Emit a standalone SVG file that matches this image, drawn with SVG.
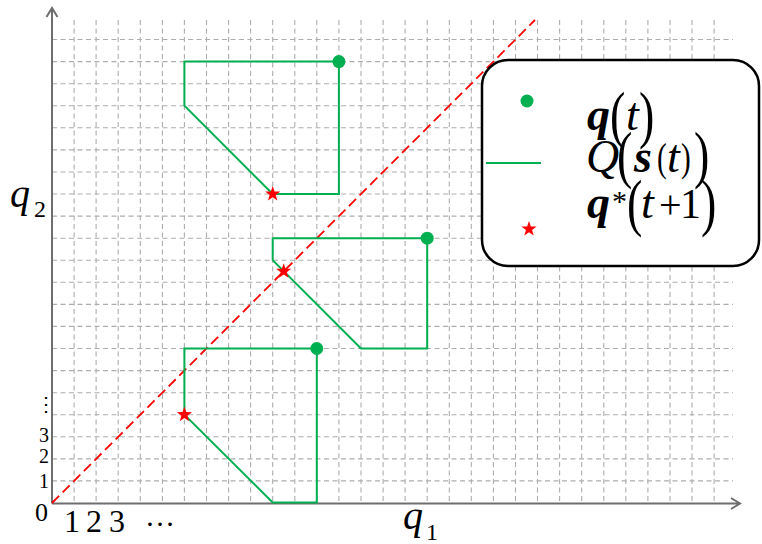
<svg xmlns="http://www.w3.org/2000/svg" width="762" height="544" viewBox="0 0 762 544">
<style>
.grid{fill:none;stroke:#adadad;stroke-width:1.1;stroke-dasharray:5 3.5}
.axis{fill:none;stroke:#6e6e6e;stroke-width:2}
.traj{fill:none;stroke:#00b050;stroke-width:2;stroke-linejoin:miter}
.dot{fill:#00b050}
.star{fill:#ff0000}
.diag{fill:none;stroke:#ff0000;stroke-width:1.8;stroke-dasharray:10 5}
.t{font-family:"Liberation Serif","Times New Roman",serif;fill:#000}
.i{font-style:italic}
.bi{font-style:italic;font-weight:bold}
</style>
<defs>
<path id="starshape" d="M0,-8 L1.88,-2.59 L7.61,-2.47 L3.04,0.99 L4.7,6.47 L0,3.2 L-4.7,6.47 L-3.04,0.99 L-7.61,-2.47 L-1.88,-2.59 Z"/>
</defs>
<rect width="762" height="544" fill="#ffffff"/>
<g id="grid">
<path class="grid" d="M74.1 20V503M96.1 20V503M118.2 20V503M140.3 20V503M162.4 20V503M184.4 20V503M206.5 20V503M228.6 20V503M250.6 20V503M272.7 20V503M294.8 20V503M316.8 20V503M338.9 20V503M361 20V503M383.1 20V503M405.1 20V503M427.2 20V503M449.3 20V503M471.3 20V503M493.4 20V503M515.5 20V503M537.5 20V503M559.6 20V503M581.7 20V503M603.8 20V503M625.8 20V503M647.9 20V503M670 20V503M692 20V503M714.1 20V503"/>
<path class="grid" d="M52 480.9H733M52 458.9H733M52 436.8H733M52 414.7H733M52 392.7H733M52 370.6H733M52 348.5H733M52 326.4H733M52 304.4H733M52 282.3H733M52 260.2H733M52 238.2H733M52 216.1H733M52 194H733M52 172H733M52 149.9H733M52 127.8H733M52 105.7H733M52 83.7H733M52 61.6H733M52 39.5H733"/>
</g>
<g id="axes">
<path class="axis" d="M52 503.5V8M46.5 17L52 8L57.5 17"/>
<path class="axis" d="M52 503.5H740M731 498L740 503.5L731 509"/>
</g>
<g id="connectors">
<line class="diag" x1="52" y1="503" x2="535" y2="20"/>
</g>
<g id="traj1">
<polygon class="traj" points="338.9,61.6 338.9,194 272.7,194 184.4,105.7 184.4,61.6"/>
<circle class="dot" cx="338.9" cy="61.6" r="6.5"/>
<use href="#starshape" class="star" x="272.7" y="194"/>
</g>
<g id="traj2">
<polygon class="traj" points="427.2,238.2 427.2,348.5 361,348.5 272.7,260.2 272.7,238.2"/>
<circle class="dot" cx="427.2" cy="238.2" r="6.5"/>
<use href="#starshape" class="star" x="283.7" y="271.3"/>
</g>
<g id="traj3">
<polygon class="traj" points="316.8,348.5 316.8,502.5 272.7,502.5 184.4,414.7 184.4,348.5"/>
<circle class="dot" cx="316.8" cy="348.5" r="6.5"/>
<use href="#starshape" class="star" x="184.4" y="414.7"/>
</g>
<g id="legend">
<rect x="482" y="60" width="277" height="206" rx="26" ry="26" fill="#ffffff" stroke="#000" stroke-width="2.5"/>
<circle class="dot" cx="527" cy="101" r="6.5"/>
<line x1="486" y1="163" x2="541" y2="163" stroke="#00b050" stroke-width="2"/>
<use href="#starshape" class="star" x="529" y="229"/>
<text class="t bi" x="587" y="130" font-size="46">q</text>
<text class="t" font-size="64" transform="translate(610,136) scale(0.72,1)">(</text>
<text class="t i" x="626" y="130" font-size="46">t</text>
<text class="t" font-size="64" transform="translate(639,136) scale(0.72,1)">)</text>
<text class="t i" x="586" y="172" font-size="46">Q</text>
<text class="t" font-size="64" transform="translate(617,176) scale(0.72,1)">(</text>
<text class="t bi" x="634" y="172" font-size="46">s</text>
<text class="t" font-size="39" transform="translate(657,171) scale(0.75,1)">(</text>
<text class="t i" x="667" y="172" font-size="46">t</text>
<text class="t" font-size="39" transform="translate(681,171) scale(0.75,1)">)</text>
<text class="t" font-size="64" transform="translate(694,176) scale(0.72,1)">)</text>
<text class="t bi" x="587" y="218" font-size="46">q</text>
<text class="t" x="612" y="211" font-size="30">*</text>
<text class="t" font-size="64" transform="translate(627,224) scale(0.72,1)">(</text>
<text class="t i" x="641" y="218" font-size="46">t</text>
<text class="t" x="659" y="218" font-size="40">+</text>
<text class="t" x="680" y="218" font-size="42">1</text>
<text class="t" font-size="64" transform="translate(701,224) scale(0.72,1)">)</text>
</g>
<g id="labels">
<text class="t i" x="10" y="207" font-size="40">q</text>
<text class="t" x="34" y="217" font-size="24">2</text>
<text class="t i" x="403" y="529" font-size="40">q</text>
<text class="t" x="426" y="540" font-size="24">1</text>
<text class="t" x="35" y="521" font-size="26">0</text>
<text class="t" x="64" y="532" font-size="32">1</text>
<text class="t" x="86" y="532" font-size="32">2</text>
<text class="t" x="109" y="532" font-size="32">3</text>
<text class="t" x="145" y="526" font-size="30">…</text>
<text class="t" x="39" y="488" font-size="20">1</text>
<text class="t" x="39" y="463" font-size="20">2</text>
<text class="t" x="39" y="442" font-size="20">3</text>
<text x="36" y="411" font-size="20" font-family="DejaVu Serif, serif">⋮</text>
</g>
</svg>
